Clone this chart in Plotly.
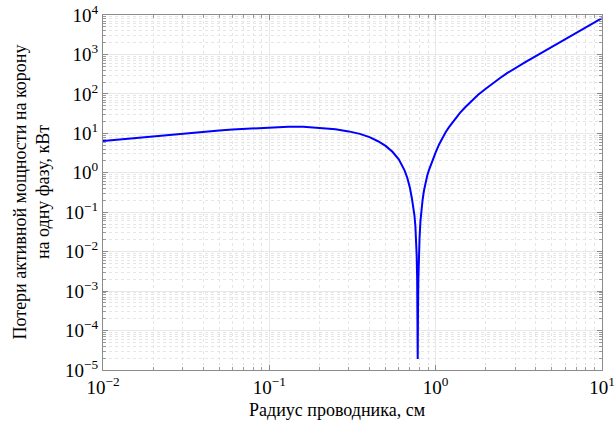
import plotly.graph_objects as go

# Radius of conductor, cm
radius_cm = [0.01, 0.013, 0.017, 0.02, 0.025, 0.03, 0.04, 0.05, 0.06, 0.077,
             0.1, 0.13, 0.16, 0.2, 0.25, 0.3, 0.35, 0.4, 0.45, 0.5, 0.55, 0.6,
             0.625, 0.65, 0.675, 0.7, 0.72, 0.735, 0.745, 0.755, 0.763, 0.769,
             0.774, 0.777, 0.78, 0.783, 0.787, 0.792, 0.8, 0.81, 0.82, 0.835,
             0.85, 0.87, 0.89, 0.91, 0.95, 1.0, 1.05, 1.1, 1.15, 1.2, 1.3, 1.4,
             1.5, 1.65, 1.8, 2.0, 2.2, 2.44, 2.7, 3.0, 3.5, 4.0, 5.0, 6.0, 7.0,
             8.0, 9.0, 10.0]
# Active power corona losses per phase, kW
loss_kw = [6.4, 7.1, 8.0, 8.5, 9.3, 9.9, 11.0, 11.8, 12.5, 13.3,
           14.3, 14.7, 14.6, 13.9, 12.7, 11.2, 9.7, 8.0, 6.3, 4.8, 3.4, 2.2,
           1.65, 1.15, 0.75, 0.42, 0.22, 0.13, 0.085, 0.045, 0.02, 0.008,
           0.002, 3e-4, 1.9e-5, 3e-4, 0.002, 0.007, 0.022, 0.06, 0.11, 0.21,
           0.35, 0.58, 0.85, 1.15, 1.9, 3.3, 5.3, 7.8, 10.8, 14.2, 22.5, 33,
           45, 68, 95, 135, 185, 253, 340, 454, 658, 910, 1560, 2420, 3500,
           4830, 6420, 8300]

x_tick_vals = [0.01, 0.1, 1, 10]
x_tick_text = ["10<sup>−2</sup>", "10<sup>−1</sup>", "10<sup>0</sup>", "10<sup>1</sup>"]
y_tick_vals = [1e-5, 1e-4, 1e-3, 1e-2, 1e-1, 1, 10, 100, 1e3, 1e4]
y_tick_text = ["10<sup>−5</sup>", "10<sup>−4</sup>", "10<sup>−3</sup>", "10<sup>−2</sup>",
               "10<sup>−1</sup>", "10<sup>0</sup>", "10<sup>1</sup>", "10<sup>2</sup>",
               "10<sup>3</sup>", "10<sup>4</sup>"]

x_title = "Радиус проводника, см"
y_title = "Потери активной мощности на корону<br>на одну фазу, кВт"

font_family = "Liberation Serif, Times New Roman, serif"

fig = go.Figure()
fig.add_trace(go.Scatter(x=radius_cm, y=loss_kw, mode="lines",
                         line=dict(color="#0000ff", width=2), showlegend=False))

axis_common = dict(
    type="log",
    tickmode="array",
    automargin=False,
    ticklabeloverflow="allow",
    showline=True,
    linecolor="#8c8c8c",
    linewidth=1,
    mirror="allticks",
    ticks="inside",
    ticklen=5,
    tickcolor="#8c8c8c",
    showgrid=True,
    gridcolor="#e8e8e8",
    gridwidth=1,
    zeroline=False,
    tickfont=dict(family=font_family, size=19, color="#000"),
    minor=dict(ticks="inside", ticklen=3, tickcolor="#9a9a9a", dtick="D1",
               showgrid=True, gridcolor="#e6e6e6", griddash="dot", gridwidth=1),
)

fig.update_xaxes(range=[-2, 1], tickvals=x_tick_vals, ticktext=x_tick_text, **axis_common)
fig.update_yaxes(range=[-5, 4], tickvals=y_tick_vals, ticktext=y_tick_text, **axis_common)

fig.add_annotation(text=x_title, xref="paper", yref="paper", x=0.469, y=0,
                   xanchor="center", yanchor="middle", yshift=-40, showarrow=False,
                   font=dict(family=font_family, size=18, color="#000"))
fig.add_annotation(text=y_title, xref="paper", yref="paper", x=0, y=0.5,
                   xanchor="center", yanchor="middle", xshift=-72, showarrow=False,
                   textangle=-90,
                   font=dict(family=font_family, size=18, color="#000"))

fig.update_layout(
    width=615, height=426,
    margin=dict(l=103, r=13, t=15, b=56),
    paper_bgcolor="white",
    plot_bgcolor="white",
    font=dict(family=font_family, color="#000"),
    hovermode=False,
)

fig.write_html("out.html",
               config={"displayModeBar": False, "staticPlot": True},
               post_script="document.body.style.margin='0';document.body.style.overflow='hidden';")
